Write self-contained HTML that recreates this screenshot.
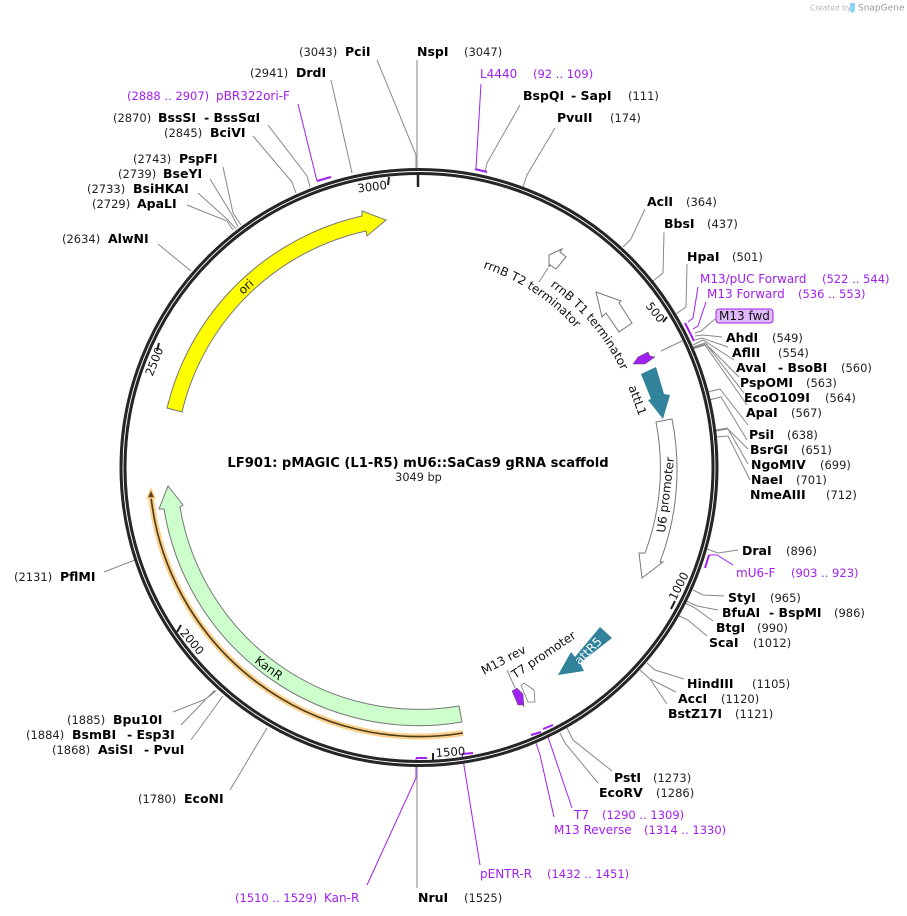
<!DOCTYPE html>
<html><head><meta charset="utf-8"><style>
html,body{margin:0;padding:0;background:#fff}
svg{display:block}
text{font-family:"DejaVu Sans","Liberation Sans",sans-serif;font-size:12px;fill:#111}
.b{font-weight:bold;font-size:12.5px;fill:#000}
.n{font-size:11.5px;fill:#222}
.p{font-size:12px;fill:#a020f0}
.pn{font-size:11.5px;fill:#a020f0}
.l{fill:none;stroke:#888;stroke-width:1}
.v{fill:none;stroke:#a020f0;stroke-width:1}
.t{fill:none;stroke:#a020f0;stroke-width:2}
.k{stroke:#222;stroke-width:2;fill:none}
.r{font-size:11.6px;fill:#111}
</style></head><body>
<svg width="907" height="916" viewBox="0 0 907 916" xmlns="http://www.w3.org/2000/svg">
<defs>
<path id="t2" d="M483,268 A209,209 0 0 1 600,362.5"/>
<path id="t1" d="M550,286 A224,224 0 0 1 629.5,390"/>
</defs>

<!-- watermark -->
<text x="810" y="10.5" style="font-size:7.5px;fill:#bbb">Created by</text>
<path d="M850,3 h5 v6 q0,3 -3,4 q-2,-1 -2,-4z" fill="#8fd3f4"/>
<text x="858" y="10.5" style="font-size:9px;fill:#999">SnapGene</text>

<!-- leaders -->
<path class="l" style="stroke:#aaa;stroke-width:1.5" d="M417,60V170M417,763V888"/>
<path class="l" d="M377,60L416,155V170M331,80L352,173M268,125L307,176L310,187M253,136L292,182L296,193M223,167L233,213L241,225M210,179L232,215L238,227M198,193L228,220L236,229M187,205L227,221L233,230M158,244L191,271"/>
<path class="l" d="M520,105L487,163L485,172M555,128L527,175L523,187M645,209L631,239L623,247M664,232L663,273L653,281M687,264L686,307L676,314"/>
<path class="l" d="M715,319L701,331L695,333M722,337L703,335L695,336M728,347L702,338L695,340M734,360L703,340L693,345M739,377L705,343L693,347M744,393L706,344L693,348M747,405L705,345L693,349M748,425L720,389L708,392M747,440L721,397L709,400M748,449L727,428L716,430M748,464L728,429L716,431M750,480L728,436L716,437"/>
<path class="l" d="M738,550L718,553L707,549M724,596L703,595L693,590M718,610L697,606L686,601M713,621L695,608L685,603M707,636L688,620L679,616M684,679L655,670L647,663M676,692L650,679L640,670M667,704L650,679L640,670M612,771L573,740L567,728M598,783L565,743L560,733"/>
<path class="l" d="M267,728L230,790M173,712L206,699L215,690M181,725L207,698L216,691M191,740L223,696M104,572L135,560"/>
<path class="l" d="M661,351L682,341M548,268L539,282M507,670L515,688"/>

<!-- purple primers -->
<path class="v" d="M298,104L317,181M481,84L476,168M698,287L693,318L688,322M706,302L698,326L693,329M733,565L717,555L709,555M572,808L548,737M554,817L540,755L534,737M480,865L462,753M367,885L416,778V758"/>

<!-- ring -->
<circle cx="419" cy="467.5" r="296" fill="none" stroke="#262626" stroke-width="7"/>
<circle cx="419" cy="467.5" r="296" fill="none" stroke="#fff" stroke-width="0.9"/>

<path class="t" d="M317,181L331,177M475,169L487,172M685,323L694,341M709,555L705,568M543,729L553,725M531,735L541,732M462,754L473,753M416,758L427,758"/>

<!-- ticks -->
<path class="k" style="stroke-width:2.5" d="M418,172V187"/>
<path class="k" d="M389,177L388,185M663,322L667,317M671,609L675,601M433,753V761M181,625L177,632M159,343L157,351"/>

<text class="r" transform="translate(358,192.5) rotate(-7)">3000</text>
<text class="r" transform="translate(645.3,306) rotate(52)">500</text>
<text class="r" transform="translate(675.6,601) rotate(-63)">1000</text>
<text class="r" transform="translate(436,757) rotate(-4)">1500</text>
<text class="r" transform="translate(179.5,633) rotate(50)">2000</text>
<text class="r" transform="translate(152.5,376.7) rotate(-68)">2500</text>

<!-- features -->
<path d="M167,408 A259,259 0 0 1 362,216 L362,211 L386,220 L367,236 L366,231 A243,243 0 0 0 182,412 Z" fill="#ffff00" stroke="#777" stroke-width="1"/>
<path d="M459,706 A242,242 0 0 1 180,507 L183,505 L168,486 L159,509 L164,509 A258,258 0 0 0 462,722 Z" fill="#ccffcc" stroke="#777" stroke-width="1"/>
<path d="M463,733 A270,270 0 0 1 151,497" fill="none" stroke="#fbd08a" stroke-width="6"/>
<path d="M463,733 A270,270 0 0 1 151,497" fill="none" stroke="#4a3a20" stroke-width="1.6"/>
<path d="M151,489L147,498H155Z" fill="#5a4520" stroke="#fbd08a" stroke-width="1.5"/>
<path d="M656,422 A242,242 0 0 1 645,553 L639,553 L642,578 L663,562 L660,562 A258,258 0 0 0 672,419 Z" fill="#fff" stroke="#777" stroke-width="1"/>
<path d="M641,374L656,367L664,394L670,395L663,419L648,400L651,399Z" fill="#31829b"/>
<path d="M600,627L612,638L580,663L584,671L558,675L571,652L575,657Z" fill="#31829b"/>
<path d="M596,292L621,301L619,303L632,323L619,332L606,313L602,317Z" fill="#fff" stroke="#777" stroke-width="1"/>
<path d="M549,255L562,249L560,252L566,257L556,269L550,265L549,267Z" fill="#fff" stroke="#777" stroke-width="1"/>
<path d="M633,364L638,357L648,352L650,356L655,357L645,364Z" fill="#a020f0" stroke="#555" stroke-width=".5"/>
<path d="M512,691L517,688L523,694L524,707L523,705L518,705Z" fill="#a020f0" stroke="#555" stroke-width=".5"/>
<path d="M521,686L524,683L534,690L535,702L528,702L523,690Z" fill="#fff" stroke="#777" stroke-width=".8"/>

<!-- feature labels -->
<text transform="translate(243,295) rotate(-43)">ori</text>
<text transform="translate(254,662) rotate(37)">KanR</text>
<text transform="translate(665,533) rotate(-83)">U6 promoter</text>
<text transform="translate(628.4,387) rotate(70)">attL1</text>
<text transform="translate(484,675) rotate(-28)">M13 rev</text>
<text transform="translate(515,679) rotate(-34)">T7 promoter</text>
<text transform="translate(579.5,665.4) rotate(-45)" style="fill:#fff">attR5</text>
<text><textPath href="#t2">rrnB T2 terminator</textPath></text>
<text><textPath href="#t1">rrnB T1 terminator</textPath></text>

<!-- title -->
<text x="418" y="467" text-anchor="middle" style="font-weight:bold;font-size:13.13px;fill:#000">LF901: pMAGIC (L1-R5) mU6::SaCas9 gRNA scaffold</text>
<text x="418.5" y="481" text-anchor="middle" style="font-size:11.3px;fill:#222">3049 bp</text>

<!-- enzymes -->
<g>
<text class="n" x="299" y="56">(3043)</text><text class="b" x="345" y="56">PciI</text>
<text class="b" x="417" y="56">NspI</text><text class="n" x="464" y="56">(3047)</text>
<text class="n" x="250" y="77">(2941)</text><text class="b" x="296" y="77">DrdI</text>
<text class="pn" x="127" y="100">(2888 .. 2907)</text><text class="p" x="216" y="100">pBR322ori-F</text>
<text class="n" x="113" y="122">(2870)</text><text class="b" x="158" y="122">BssSI</text><text class="b" x="204" y="122">- BssSαI</text>
<text class="n" x="164" y="137">(2845)</text><text class="b" x="210" y="137">BciVI</text>
<text class="n" x="133" y="163">(2743)</text><text class="b" x="179" y="163">PspFI</text>
<text class="n" x="118" y="178">(2739)</text><text class="b" x="163" y="178">BseYI</text>
<text class="n" x="87" y="193">(2733)</text><text class="b" x="133" y="193">BsiHKAI</text>
<text class="n" x="92" y="208">(2729)</text><text class="b" x="137" y="208">ApaLI</text>
<text class="n" x="62" y="243">(2634)</text><text class="b" x="108" y="243">AlwNI</text>
<text class="n" x="14" y="581">(2131)</text><text class="b" x="60" y="581">PflMI</text>
<text class="n" x="67" y="724">(1885)</text><text class="b" x="113" y="724">Bpu10I</text>
<text class="n" x="26" y="739">(1884)</text><text class="b" x="72" y="739">BsmBI</text><text class="b" x="127" y="739">- Esp3I</text>
<text class="n" x="52" y="754">(1868)</text><text class="b" x="98" y="754">AsiSI</text><text class="b" x="144" y="754">- PvuI</text>
<text class="n" x="138" y="803">(1780)</text><text class="b" x="184" y="803">EcoNI</text>
<text class="pn" x="235" y="902">(1510 .. 1529)</text><text class="p" x="324" y="902">Kan-R</text>
<text class="b" x="418" y="902">NruI</text><text class="n" x="464" y="902">(1525)</text>

<text class="p" x="480" y="78">L4440</text><text class="pn" x="533" y="78">(92 .. 109)</text>
<text class="b" x="523" y="100">BspQI</text><text class="b" x="571" y="100">- SapI</text><text class="n" x="628" y="100">(111)</text>
<text class="b" x="557" y="122">PvuII</text><text class="n" x="610" y="122">(174)</text>
<text class="b" x="647" y="206">AclI</text><text class="n" x="686" y="206">(364)</text>
<text class="b" x="664" y="228">BbsI</text><text class="n" x="707" y="228">(437)</text>
<text class="b" x="687" y="261">HpaI</text><text class="n" x="732" y="261">(501)</text>
<text class="p" x="700" y="283">M13/pUC Forward</text><text class="pn" x="822" y="283">(522 .. 544)</text>
<text class="p" x="707" y="298">M13 Forward</text><text class="pn" x="798" y="298">(536 .. 553)</text>
<rect x="716" y="309" width="57" height="14" rx="3" fill="#e0b8fb" stroke="#a020f0" stroke-width="1"/>
<text x="719" y="320">M13 fwd</text>
<text class="b" x="726" y="342">AhdI</text><text class="n" x="772" y="342">(549)</text>
<text class="b" x="732" y="357">AflII</text><text class="n" x="778" y="357">(554)</text>
<text class="b" x="736" y="372">AvaI</text><text class="b" x="778" y="372">- BsoBI</text><text class="n" x="841" y="372">(560)</text>
<text class="b" x="740" y="387">PspOMI</text><text class="n" x="806" y="387">(563)</text>
<text class="b" x="744" y="402">EcoO109I</text><text class="n" x="825" y="402">(564)</text>
<text class="b" x="746" y="417">ApaI</text><text class="n" x="791" y="417">(567)</text>
<text class="b" x="749" y="439">PsiI</text><text class="n" x="787" y="439">(638)</text>
<text class="b" x="750" y="454">BsrGI</text><text class="n" x="801" y="454">(651)</text>
<text class="b" x="751" y="469">NgoMIV</text><text class="n" x="820" y="469">(699)</text>
<text class="b" x="751" y="484">NaeI</text><text class="n" x="796" y="484">(701)</text>
<text class="b" x="750" y="499">NmeAIII</text><text class="n" x="826" y="499">(712)</text>
<text class="b" x="742" y="555">DraI</text><text class="n" x="786" y="555">(896)</text>
<text class="p" x="736" y="577">mU6-F</text><text class="pn" x="791" y="577">(903 .. 923)</text>
<text class="b" x="728" y="602">StyI</text><text class="n" x="770" y="602">(965)</text>
<text class="b" x="722" y="617">BfuAI</text><text class="b" x="769" y="617">- BspMI</text><text class="n" x="834" y="617">(986)</text>
<text class="b" x="716" y="632">BtgI</text><text class="n" x="757" y="632">(990)</text>
<text class="b" x="709" y="647">ScaI</text><text class="n" x="753" y="647">(1012)</text>
<text class="b" x="687" y="688">HindIII</text><text class="n" x="752" y="688">(1105)</text>
<text class="b" x="678" y="703">AccI</text><text class="n" x="721" y="703">(1120)</text>
<text class="b" x="668" y="718">BstZ17I</text><text class="n" x="735" y="718">(1121)</text>
<text class="b" x="614" y="782">PstI</text><text class="n" x="653" y="782">(1273)</text>
<text class="b" x="599" y="797">EcoRV</text><text class="n" x="656" y="797">(1286)</text>
<text class="p" x="574" y="819">T7</text><text class="pn" x="602" y="819">(1290 .. 1309)</text>
<text class="p" x="554" y="834">M13 Reverse</text><text class="pn" x="644" y="834">(1314 .. 1330)</text>
<text class="p" x="480" y="878">pENTR-R</text><text class="pn" x="547" y="878">(1432 .. 1451)</text>
</g>
</svg>
</body></html>
